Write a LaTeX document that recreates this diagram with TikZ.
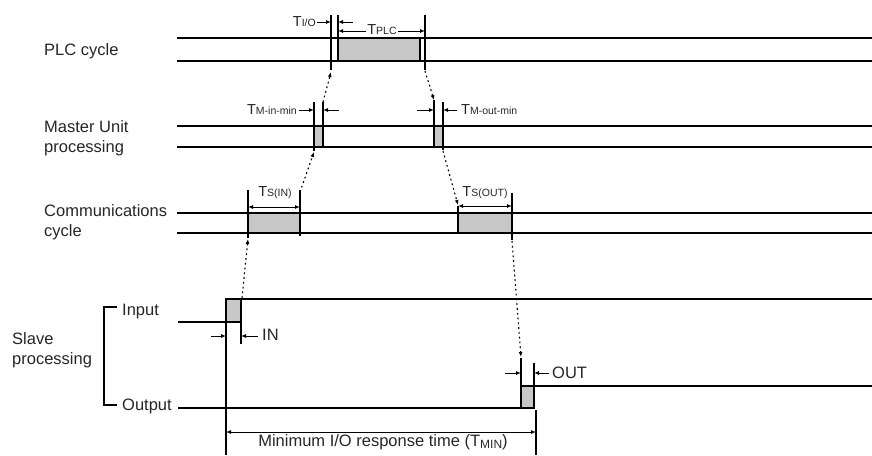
\documentclass[tikz,border=0pt]{standalone}
\usepackage{fontspec}
\setmainfont{Liberation Sans}
\usetikzlibrary{arrows.meta}
\newcommand{\Tlbl}[1]{{\fontsize{14.5}{14.5}\selectfont T}{\fontsize{10.5}{10.5}\selectfont #1}}

\begin{document}
\begin{tikzpicture}[x=1pt,y=-1pt,>={Latex[length=5pt,width=4pt]},
 wire/.style={line width=1.3pt},
 slot/.style={draw,line width=1.3pt,fill=black!22},
 flow/.style={->,line width=1.1pt,dash pattern=on 1.8pt off 3pt},
 dim/.style={line width=1pt},
 lbl/.style={font=\fontsize{16.5}{19.5}\selectfont,text=black!85,align=left,inner sep=0pt},
 tlbl/.style={text=black!85,inner sep=1pt}]
\useasboundingbox (0,0) rectangle (872,455);

% labels on the left
\node[lbl,anchor=west] (plc) at (44,51) {PLC cycle};
\node[lbl,anchor=west] (mst) at (44,138) {Master Unit\\processing};
\node[lbl,anchor=west] (com) at (44,222) {Communications\\cycle};
\node[lbl,anchor=west] (slv) at (12,350) {Slave\\processing};
\node[lbl,anchor=west] (inp) at (122,312) {Input};
\node[lbl,anchor=west] (outp) at (122,406) {Output};
\draw[wire] (117,307) -- (104,307) -- (104,405) -- (117,405);

% PLC cycle
\draw[wire] (177,38) -- (872,38) (177,61) -- (872,61);
\draw[slot] (338,38) rectangle (420,61);
\draw[wire] (331,15) -- (331,70) (338,15) -- (338,61) (425,15) -- (425,70);
\draw[dim,->] (317,22) -- (331,22);
\draw[dim,->] (353,22) -- (338,22);
\node[tlbl,anchor=east] (tio) at (317,22) {\Tlbl{I/O}};
\draw[dim,<->] (338,31) -- (425,31);
\node[tlbl,fill=white] (tplc) at (382,30) {\Tlbl{PLC}};

% Master Unit processing
\draw[wire] (177,126) -- (872,126) (177,147) -- (872,147);
\draw[slot] (314,126) rectangle (323,147);
\draw[slot] (434,126) rectangle (443,147);
\draw[wire] (314,102) -- (314,151) (323,102) -- (323,147);
\draw[wire] (434,100) -- (434,147) (443,102) -- (443,150);
\draw[dim,->] (299,110) -- (314,110);
\draw[dim,->] (339,110) -- (323,110);
\node[tlbl,anchor=east] (tmin) at (298,110) {\Tlbl{M-in-min}};
\draw[dim,->] (417,110) -- (434,110);
\draw[dim,->] (457,110) -- (443,110);
\node[tlbl,anchor=west] (tmout) at (460,110) {\Tlbl{M-out-min}};

% Communications cycle
\draw[wire] (177,213) -- (872,213) (177,233) -- (872,233);
\draw[slot] (248,213) rectangle (300,233);
\draw[slot] (458,213) rectangle (512,233);
\draw[wire] (248,190) -- (248,238) (300,190) -- (300,236);
\draw[wire] (458,206) -- (458,233) (512,193) -- (512,240);
\draw[dim,<->] (248,207) -- (300,207);
\node[tlbl] (tsin) at (275,193) {\Tlbl{S(IN)}};
\draw[dim,<->] (458,206) -- (512,206);
\node[tlbl] (tsout) at (485,193) {\Tlbl{S(OUT)}};

% Slave processing
\draw[wire] (178,322) -- (226,322);
\draw[slot] (226,299) rectangle (241,322);
\draw[wire] (226,299) -- (872,299) (226,299) -- (226,455) (241,322) -- (241,344);
\draw[dim,->] (211,336) -- (226,336);
\draw[dim,->] (258,336) -- (241,336);
\node[lbl,anchor=west] (inl) at (262,335) {IN};
\draw[wire] (178,408) -- (521,408);
\draw[slot] (521,386) rectangle (534,408);
\draw[wire] (534,386) -- (872,386) (521,358) -- (521,408) (534,363) -- (534,408);
\draw[dim,->] (505,373) -- (521,373);
\draw[dim,->] (549,373) -- (534,373);
\node[lbl,anchor=west] (outl) at (552,373) {OUT};

% minimum response time
\draw[wire] (536,410) -- (536,455);
\draw[dim,<->] (226,432) -- (536,432);
\node[lbl] (tmn) at (383,442) {Minimum I/O response time (T\raisebox{-2.5pt}{\fontsize{12}{12}\selectfont MIN})};

% data flow
\coordinate (slvIn) at (242,298);
\coordinate (comInL) at (248,239);
\coordinate (comInR) at (300,192);
\coordinate (mstInL) at (314,152);
\coordinate (mstInR) at (323,102);
\coordinate (plcL) at (331,72);
\coordinate (plcR) at (425,71);
\coordinate (mstOutL) at (434,100);
\coordinate (mstOutR) at (443,151);
\coordinate (comOutL) at (458,205);
\coordinate (comOutR) at (512,241);
\coordinate (slvOut) at (521,357);
\draw[flow] (slvIn) -- (comInL);
\draw[flow] (comInR) -- (mstInL);
\draw[flow] (mstInR) -- (plcL);
\draw[flow] (plcR) -- (mstOutL);
\draw[flow] (mstOutR) -- (comOutL);
\draw[flow] (comOutR) -- (slvOut);
\end{tikzpicture}
\end{document}
